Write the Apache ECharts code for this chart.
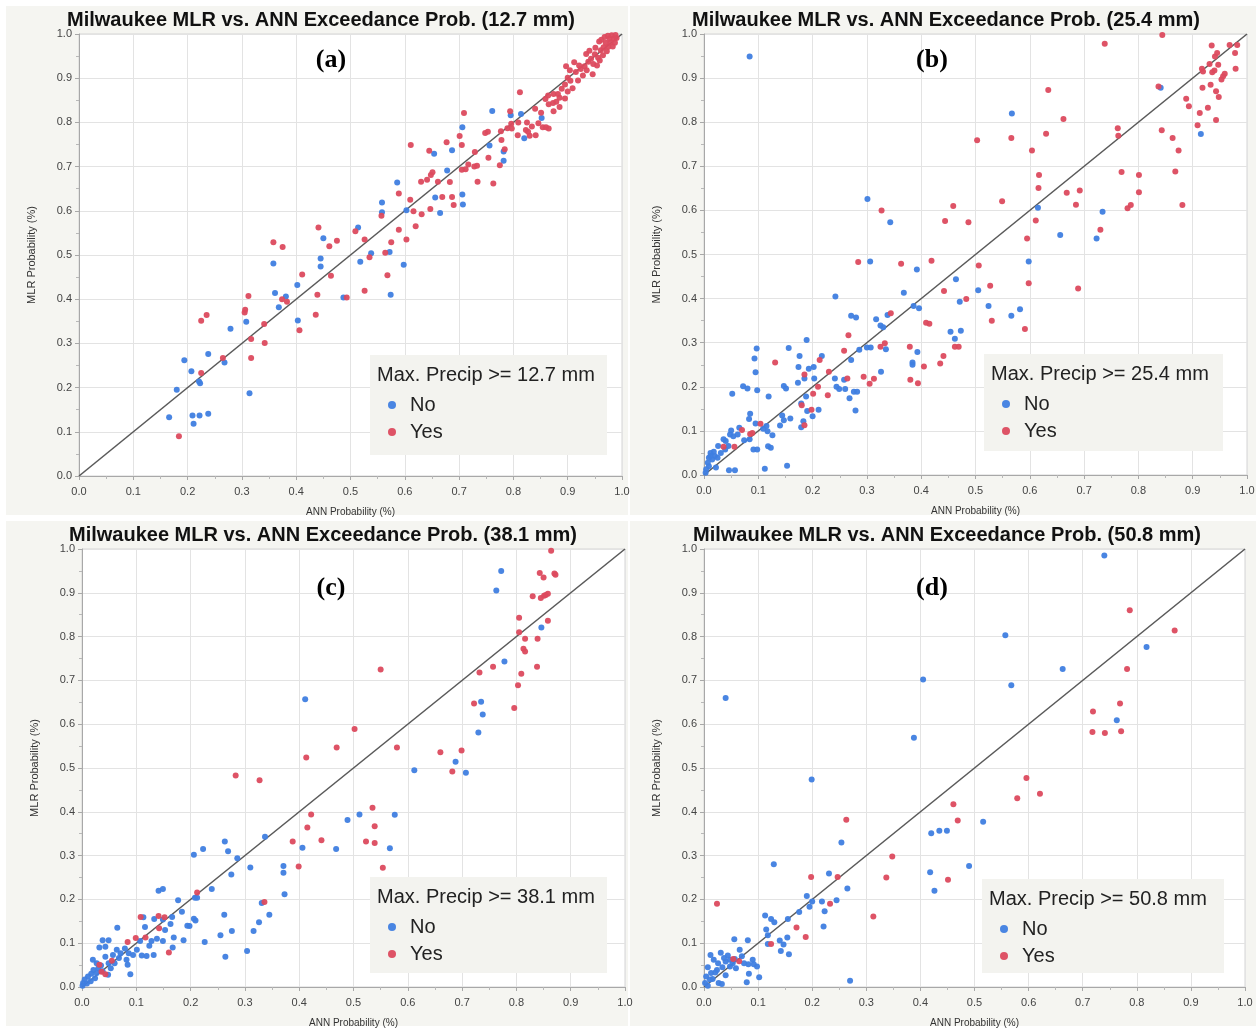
<!DOCTYPE html>
<html><head><meta charset="utf-8">
<script src="https://cdn.jsdelivr.net/npm/echarts@6/dist/echarts.min.js"></script>
<style>html,body{margin:0;padding:0;background:#fff}#c{width:1258px;height:1029px}</style>
</head><body><div id="c"></div><script>
// ---------------- DATA ----------------
const thresholds = ['12.7', '25.4', '38.1', '50.8'];
const panelLetters = ['(a)', '(b)', '(c)', '(d)'];
const groupNames = ['No', 'Yes'];
const axisMin = 0, axisMax = 1, axisStep = 0.1;
const diagonal = [[0, 0], [1, 1]];

const aNo = [[0.166,0.133],[0.18,0.195],[0.194,0.262],[0.207,0.237],[0.209,0.137],[0.211,0.118],[0.221,0.214],[0.223,0.21],[0.222,0.137],[0.238,0.276],[0.238,0.141],[0.268,0.257],[0.279,0.333],[0.308,0.349],[0.314,0.187],[0.358,0.481],[0.361,0.414],[0.368,0.382],[0.381,0.406],[0.402,0.432],[0.403,0.352],[0.445,0.492],[0.445,0.474],[0.487,0.404],[0.518,0.485],[0.538,0.504],[0.572,0.507],[0.574,0.41],[0.598,0.478],
[0.45,0.538],[0.514,0.562],[0.558,0.619],[0.558,0.597],[0.586,0.664],[0.603,0.601],[0.654,0.729],[0.656,0.63],[0.665,0.595],[0.678,0.691],[0.687,0.737],[0.706,0.789],[0.706,0.637],[0.707,0.614],[0.761,0.826],[0.756,0.748],[0.782,0.713],[0.782,0.734],[0.795,0.816],[0.814,0.819],[0.82,0.764],[0.852,0.81]];
const aYes = [[0.184,0.09],[0.225,0.351],[0.235,0.364],[0.225,0.233],[0.265,0.267],[0.305,0.37],[0.306,0.376],[0.312,0.407],[0.317,0.31],[0.317,0.267],[0.341,0.344],[0.342,0.301],[0.374,0.4],[0.383,0.394],[0.406,0.33],[0.411,0.456],[0.436,0.365],[0.439,0.41],[0.464,0.453],[0.493,0.404],[0.526,0.419],[0.535,0.495],[0.564,0.505],[0.568,0.454],
[0.358,0.529],[0.375,0.518],[0.441,0.562],[0.461,0.52],[0.475,0.532],[0.509,0.554],[0.526,0.535],[0.557,0.589],[0.575,0.529],[0.589,0.557],[0.589,0.639],[0.603,0.535],[0.61,0.625],[0.611,0.749],[0.616,0.599],[0.62,0.565],[0.631,0.592],[0.63,0.666],[0.641,0.67],[0.645,0.736],[0.647,0.604],[0.648,0.681],[0.651,0.687],[0.661,0.666],[0.669,0.631],[0.677,0.755],[0.683,0.665],[0.687,0.631],[0.69,0.613],[0.701,0.769],[0.705,0.749],[0.705,0.693],[0.709,0.821],[0.712,0.694],[0.717,0.705],[0.728,0.7],[0.734,0.666],[0.729,0.733],[0.733,0.702],[0.748,0.776],[0.753,0.779],[0.754,0.72],[0.763,0.662],[0.775,0.703],[0.777,0.78],[0.778,0.76],[0.784,0.739],[0.789,0.787],[0.794,0.825],[0.796,0.797],[0.797,0.786],[0.809,0.8],[0.812,0.868],[0.808,0.771],[0.823,0.783],[0.825,0.8],[0.827,0.779],[0.83,0.77],[0.834,0.791],[0.84,0.831],[0.841,0.771],[0.846,0.798],[0.851,0.822],[0.854,0.789],[0.859,0.853],[0.86,0.789],[0.865,0.786],[0.864,0.861],[0.865,0.841],[0.873,0.844],[0.874,0.864],[0.874,0.825],[0.879,0.847],[0.882,0.864],[0.885,0.835],[0.885,0.856],[0.889,0.876],[0.895,0.886],[0.895,0.854],[0.897,0.927],[0.9,0.901],[0.9,0.87],[0.904,0.918],[0.905,0.894],[0.909,0.877],[0.912,0.936],[0.915,0.914],[0.919,0.895],[0.921,0.929],[0.924,0.921],[0.928,0.906],[0.931,0.927],[0.934,0.955],[0.935,0.918],[0.938,0.937],[0.94,0.962],[0.943,0.944],[0.946,0.909],[0.947,0.932],[0.95,0.954],[0.951,0.969],[0.954,0.929],[0.956,0.946],[0.958,0.983],[0.959,0.94],[0.961,0.963],[0.962,0.987],[0.965,0.952],[0.966,0.97],[0.968,0.993],[0.97,0.98],[0.972,0.961],[0.974,0.996],[0.975,0.971],[0.977,0.989],[0.979,0.981],[0.981,0.997],[0.983,0.972],[0.985,0.989],[0.988,0.998],[0.987,0.98],[0.99,0.991]];

const bNo = [[0.084,0.949],[0.301,0.626],[0.343,0.573],[0.567,0.82],[0.615,0.606],[0.656,0.544],[0.723,0.536],[0.734,0.597],[0.841,0.878],[0.915,0.773],
[0.306,0.484],[0.392,0.466],[0.598,0.484],[0.464,0.444],[0.242,0.405],[0.368,0.413],[0.386,0.383],[0.396,0.378],[0.505,0.419],[0.471,0.393],[0.524,0.383],[0.566,0.361],[0.582,0.376],[0.271,0.361],[0.28,0.357],[0.317,0.353],[0.325,0.339],[0.33,0.335],[0.338,0.363],[0.335,0.285],[0.454,0.325],[0.473,0.327],[0.462,0.309],[0.393,0.279],[0.384,0.255],[0.384,0.25],[0.3,0.289],[0.307,0.289],[0.286,0.284],[0.271,0.261],[0.189,0.306],[0.097,0.287],[0.156,0.288],[0.093,0.264],[0.095,0.233],[0.176,0.27],[0.217,0.27],[0.174,0.245],[0.202,0.245],[0.193,0.241],[0.203,0.219],[0.185,0.219],[0.241,0.219],[0.258,0.216],[0.249,0.195],[0.26,0.195],[0.244,0.2],[0.268,0.174],[0.276,0.189],[0.282,0.189],[0.279,0.146],[0.326,0.234],[0.119,0.178],[0.052,0.184],[0.072,0.201],[0.08,0.196],[0.098,0.192],[0.147,0.202],[0.151,0.196],[0.173,0.209],[0.188,0.178],[0.19,0.145],[0.2,0.133],[0.211,0.148],[0.179,0.162],[0.183,0.122],[0.179,0.108],[0.144,0.135],[0.159,0.128],[0.147,0.124],[0.14,0.112],[0.126,0.09],[0.115,0.111],[0.117,0.099],[0.109,0.105],[0.095,0.117],[0.085,0.139],[0.083,0.127],[0.084,0.081],[0.091,0.058],[0.098,0.058],[0.118,0.065],[0.123,0.062],[0.112,0.014],[0.153,0.021],[0.046,0.011],[0.057,0.011],[0.065,0.107],[0.074,0.079],[0.05,0.101],[0.048,0.092],[0.04,0.077],[0.036,0.081],[0.045,0.066],[0.026,0.066],[0.018,0.053],[0.012,0.05],[0.02,0.043],[0.015,0.035],[0.007,0.028],[0.009,0.02],[0.004,0.013],[0.022,0.017],[0.031,0.05],[0.039,0.058],[0.054,0.088],[0.062,0.092],[0.003,0.005],[0.009,0.039],[0.012,0.043],[0.025,0.039]];
const bYes = [[0.327,0.6],[0.444,0.576],[0.459,0.61],[0.487,0.573],[0.503,0.759],[0.549,0.621],[0.566,0.764],[0.595,0.536],[0.604,0.736],[0.611,0.577],[0.617,0.68],[0.616,0.651],[0.63,0.774],[0.634,0.873],[0.662,0.807],[0.668,0.64],[0.685,0.613],[0.692,0.645],[0.73,0.556],[0.738,0.978],[0.762,0.786],[0.763,0.769],[0.769,0.687],[0.78,0.605],[0.786,0.612],[0.801,0.68],[0.801,0.641],[0.837,0.881],[0.844,0.998],[0.843,0.782],[0.863,0.764],[0.868,0.688],[0.874,0.736],[0.881,0.612],[0.888,0.853],[0.893,0.836],[0.909,0.793],[0.913,0.821],[0.918,0.878],[0.917,0.921],[0.919,0.915],[0.928,0.833],[0.931,0.932],[0.933,0.885],[0.935,0.974],[0.936,0.913],[0.94,0.917],[0.941,0.949],[0.943,0.805],[0.943,0.87],[0.948,0.857],[0.945,0.957],[0.947,0.93],[0.953,0.897],[0.956,0.904],[0.959,0.91],[0.968,0.975],[0.978,0.957],[0.979,0.921],[0.982,0.975],
[0.284,0.483],[0.363,0.479],[0.419,0.486],[0.506,0.475],[0.527,0.429],[0.598,0.435],[0.689,0.423],[0.442,0.417],[0.483,0.399],[0.344,0.367],[0.409,0.345],[0.415,0.343],[0.53,0.35],[0.591,0.331],[0.333,0.299],[0.325,0.291],[0.379,0.291],[0.462,0.291],[0.469,0.291],[0.441,0.27],[0.435,0.253],[0.405,0.246],[0.266,0.317],[0.258,0.282],[0.131,0.255],[0.213,0.261],[0.23,0.234],[0.185,0.228],[0.264,0.219],[0.294,0.223],[0.313,0.218],[0.305,0.207],[0.38,0.216],[0.394,0.208],[0.21,0.2],[0.201,0.184],[0.228,0.181],[0.198,0.148],[0.18,0.158],[0.185,0.113],[0.104,0.116],[0.089,0.095],[0.085,0.093],[0.07,0.102],[0.056,0.064],[0.036,0.064]];

const cNo = [[0.411,0.657],[0.688,0.514],[0.73,0.581],[0.735,0.651],[0.738,0.622],[0.763,0.905],[0.772,0.95],[0.778,0.743],[0.846,0.821],
[0.612,0.495],[0.707,0.489],[0.511,0.394],[0.576,0.393],[0.489,0.381],[0.567,0.317],[0.468,0.315],[0.406,0.318],[0.337,0.343],[0.263,0.332],[0.269,0.31],[0.223,0.315],[0.206,0.302],[0.286,0.294],[0.31,0.273],[0.275,0.257],[0.371,0.276],[0.371,0.261],[0.373,0.212],[0.239,0.224],[0.212,0.204],[0.208,0.204],[0.177,0.198],[0.141,0.22],[0.149,0.224],[0.184,0.172],[0.209,0.152],[0.206,0.156],[0.198,0.139],[0.194,0.14],[0.187,0.107],[0.226,0.103],[0.255,0.118],[0.262,0.165],[0.276,0.128],[0.264,0.069],[0.304,0.082],[0.316,0.128],[0.326,0.148],[0.331,0.192],[0.345,0.165],[0.166,0.16],[0.163,0.144],[0.169,0.113],[0.167,0.09],[0.153,0.13],[0.133,0.155],[0.149,0.154],[0.113,0.159],[0.116,0.137],[0.138,0.11],[0.128,0.105],[0.124,0.094],[0.132,0.073],[0.119,0.071],[0.11,0.072],[0.101,0.085],[0.107,0.105],[0.149,0.105],[0.089,0.029],[0.065,0.135],[0.038,0.107],[0.049,0.107],[0.032,0.09],[0.043,0.092],[0.064,0.085],[0.079,0.088],[0.071,0.077],[0.086,0.077],[0.057,0.073],[0.043,0.069],[0.068,0.066],[0.082,0.062],[0.084,0.051],[0.049,0.054],[0.035,0.049],[0.027,0.054],[0.02,0.062],[0.048,0.028],[0.03,0.043],[0.021,0.039],[0.017,0.03],[0.011,0.024],[0.005,0.017],[0.002,0.009],[0.009,0.008],[0.016,0.013],[0.024,0.02],[0.001,0.003],[0.038,0.036],[0.053,0.043],[0.06,0.054],[0.094,0.073],[0.027,0.032]];
const cYes = [[0.413,0.524],[0.469,0.547],[0.502,0.589],[0.55,0.725],[0.58,0.547],[0.66,0.536],[0.699,0.54],[0.722,0.647],[0.732,0.718],[0.757,0.731],[0.796,0.637],[0.803,0.689],[0.805,0.843],[0.805,0.81],[0.809,0.715],[0.813,0.772],[0.816,0.795],[0.816,0.766],[0.83,0.892],[0.838,0.731],[0.839,0.795],[0.843,0.945],[0.845,0.888],[0.85,0.935],[0.851,0.893],[0.854,0.895],[0.858,0.836],[0.858,0.898],[0.864,0.996],[0.87,0.944],[0.872,0.941],
[0.682,0.492],[0.283,0.483],[0.327,0.472],[0.535,0.409],[0.422,0.394],[0.539,0.367],[0.415,0.364],[0.388,0.332],[0.441,0.335],[0.523,0.332],[0.539,0.329],[0.554,0.272],[0.399,0.275],[0.336,0.194],[0.212,0.216],[0.108,0.16],[0.141,0.162],[0.152,0.159],[0.142,0.134],[0.117,0.113],[0.099,0.112],[0.084,0.103],[0.16,0.079],[0.055,0.06],[0.032,0.051],[0.036,0.035],[0.043,0.029]];

const dNo = [[0.04,0.66],[0.388,0.569],[0.405,0.702],[0.557,0.803],[0.568,0.689],[0.663,0.726],[0.74,0.985],[0.763,0.609],[0.818,0.776],
[0.199,0.474],[0.516,0.377],[0.42,0.351],[0.435,0.357],[0.449,0.357],[0.49,0.276],[0.418,0.262],[0.426,0.22],[0.254,0.33],[0.129,0.28],[0.231,0.259],[0.265,0.225],[0.19,0.208],[0.2,0.195],[0.195,0.183],[0.218,0.195],[0.223,0.173],[0.245,0.198],[0.221,0.138],[0.176,0.171],[0.113,0.163],[0.124,0.155],[0.13,0.148],[0.155,0.155],[0.115,0.131],[0.118,0.118],[0.118,0.098],[0.14,0.106],[0.147,0.097],[0.154,0.113],[0.142,0.082],[0.157,0.075],[0.081,0.107],[0.056,0.109],[0.082,0.052],[0.083,0.03],[0.079,0.011],[0.102,0.022],[0.098,0.047],[0.09,0.062],[0.066,0.085],[0.07,0.07],[0.057,0.064],[0.044,0.072],[0.031,0.078],[0.012,0.073],[0.018,0.062],[0.04,0.058],[0.026,0.054],[0.034,0.045],[0.024,0.039],[0.007,0.045],[0.013,0.032],[0.004,0.024],[0.016,0.018],[0.027,0.009],[0.033,0.007],[0.002,0.009],[0.007,0.003],[0.048,0.047],[0.053,0.054],[0.059,0.043],[0.074,0.054],[0.092,0.052],[0.27,0.014],[0.048,0.062],[0.037,0.066],[0.021,0.033],[0.011,0.017],[0.04,0.027]];
const dYes = [[0.719,0.629],[0.718,0.582],[0.741,0.58],[0.769,0.647],[0.771,0.584],[0.782,0.726],[0.787,0.86],[0.87,0.814],
[0.024,0.19],[0.263,0.382],[0.198,0.251],[0.247,0.251],[0.348,0.298],[0.337,0.25],[0.313,0.161],[0.233,0.19],[0.171,0.136],[0.188,0.114],[0.124,0.098],[0.054,0.064],[0.065,0.059],[0.461,0.417],[0.469,0.38],[0.451,0.245],[0.579,0.431],[0.596,0.477],[0.621,0.441]];

const panelData = [[aNo, aYes], [bNo, bYes], [cNo, cYes], [dNo, dYes]];

// ---------------- LAYOUT ----------------
const panels = [
  {bg:[6,6,622,509],   grid:{left:79, top:34, width:543, height:442}, title:[321,20], letter:[331,60], leg:[370,355,237,100]},
  {bg:[630,6,626,509], grid:{left:704,top:34, width:543, height:441}, title:[946,20], letter:[932,60], leg:[984,354,239,97]},
  {bg:[6,521,622,505], grid:{left:82, top:549,width:543, height:439}, title:[323,535], letter:[331,588], leg:[370,877,237,96]},
  {bg:[630,521,626,505],grid:{left:704,top:549,width:541, height:439}, title:[947,535], letter:[932,588], leg:[982,879,242,94]}
];
const BLUE = '#3f7ee0', RED = '#dc4a5e';
const FONT = '"Liberation Sans", Arial, Helvetica, sans-serif';

const grids = [], xAxes = [], yAxes = [], series = [], legends = [], graphics = [];
const fmt = v => v.toFixed(1);

panels.forEach((p, i) => {
  grids.push(Object.assign({show:true, backgroundColor:'#ffffff', borderColor:'#d4d4d4', borderWidth:1, containLabel:false}, p.grid));
  const axisCommon = {
    min: axisMin, max: axisMax, interval: axisStep, gridIndex: i,
    axisLine: {show:true, onZero:false, lineStyle:{color:'#a8a8a8', width:1}},
    axisTick: {show:true, length:4, lineStyle:{color:'#a8a8a8'}},
    minorTick: {show:true, splitNumber:2, length:3, lineStyle:{color:'#b8b8b8'}},
    splitLine: {show:true, lineStyle:{color:'#e3e3e3', width:1}},
    axisLabel: {formatter: fmt, fontSize:11, color:'#444', fontFamily: FONT},
    nameLocation: 'middle',
    nameTextStyle: {fontSize:10, color:'#333', fontFamily: FONT}
  };
  xAxes.push(Object.assign({}, axisCommon, {type:'value', name:'ANN Probability (%)', nameGap:31,
    axisLabel: Object.assign({}, axisCommon.axisLabel, {margin:10})}));
  yAxes.push(Object.assign({}, axisCommon, {type:'value', name:'MLR Probability (%)', nameGap:42,
    nameTextStyle: {fontSize:11, color:'#333', fontFamily: FONT},
    axisLabel: Object.assign({}, axisCommon.axisLabel, {margin:7})}));

  series.push({type:'line', name:'diag'+i, xAxisIndex:i, yAxisIndex:i, data: diagonal, showSymbol:false, silent:true,
    lineStyle:{color:'#5a5a5a', width:1.6}, z:1});
  groupNames.forEach((g, k) => {
    series.push({type:'scatter', name:g, xAxisIndex:i, yAxisIndex:i, data: panelData[i][k],
      symbol:'circle', symbolSize:6, itemStyle:{color: k===0 ? BLUE : RED, opacity:0.95}, z:3});
  });

  const [lx, ly, lw, lh] = p.leg;
  legends.push({orient:'vertical', left: lx + 18, top: ly + 39, data: groupNames.slice(), icon:'circle',
    itemWidth:26, itemHeight:8, itemGap:5, selectedMode:false, z:20, padding:0,
    textStyle:{fontSize:20, lineHeight:22, color:'#222', fontFamily: FONT}});

  graphics.push({type:'rect', z:-100, silent:true, shape:{x:p.bg[0], y:p.bg[1], width:p.bg[2], height:p.bg[3]}, style:{fill:'#f5f5f1'}});
  graphics.push({type:'rect', z:10, silent:true, shape:{x:lx, y:ly, width:lw, height:lh}, style:{fill:'#f3f3ef'}});
  graphics.push({type:'text', z:11, silent:true, style:{text:'Max. Precip >= ' + thresholds[i] + ' mm', x: lx + 7, y: ly + 20,
    fill:'#222', font:'20px ' + FONT, textAlign:'left', verticalAlign:'middle'}});
  graphics.push({type:'text', z:11, silent:true, style:{text:'Milwaukee MLR vs. ANN Exceedance Prob. (' + thresholds[i] + ' mm)',
    x: p.title[0], y: p.title[1], fill:'#111', font:'bold 20px ' + FONT, textAlign:'center', verticalAlign:'middle'}});
  graphics.push({type:'text', z:11, silent:true, style:{text: panelLetters[i], x: p.letter[0], y: p.letter[1],
    fill:'#000', font:'bold 26px "Liberation Serif", "Times New Roman", serif', textAlign:'center', verticalAlign:'middle'}});
});

const chart = echarts.init(document.getElementById('c'), null, {renderer:'canvas'});
chart.setOption({
  backgroundColor:'#ffffff',
  animation:false,
  grid: grids, xAxis: xAxes, yAxis: yAxes, series: series, legend: legends,
  graphic: {elements: graphics}
});
</script></body></html>
